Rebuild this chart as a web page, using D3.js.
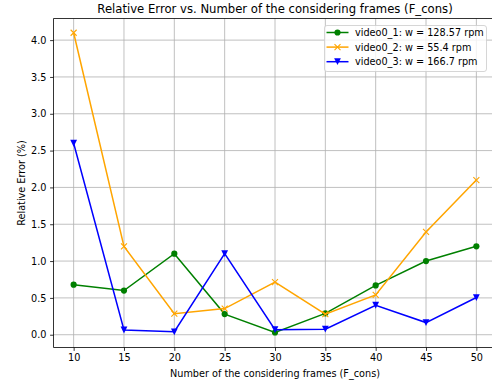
<!DOCTYPE html>
<html>
<head>
<meta charset="utf-8">
<script src="https://cdn.jsdelivr.net/npm/d3@7"></script>
<style>
  html, body { margin: 0; padding: 0; background: #fff; }
  svg { display: block; font-family: "DejaVu Sans", sans-serif; }
</style>
</head>
<body>
<script>
const frames = [10, 15, 20, 25, 30, 35, 40, 45, 50];
const video01 = [0.68, 0.60, 1.10, 0.28, 0.03, 0.29, 0.67, 1.00, 1.20];
const video02 = [4.10, 1.20, 0.285, 0.355, 0.715, 0.28, 0.54, 1.395, 2.10];
const video03 = [2.60, 0.064, 0.04, 1.10, 0.068, 0.075, 0.40, 0.165, 0.505];
const seriesNames = ["video0_1: w = 128.57 rpm", "video0_2: w = 55.4 rpm", "video0_3: w = 166.7 rpm"];
const seriesColors = ["green", "orange", "blue"];
const seriesMarkers = ["circle", "x", "tri"];
const xTicks = [10, 15, 20, 25, 30, 35, 40, 45, 50];
const yTicks = [0.0, 0.5, 1.0, 1.5, 2.0, 2.5, 3.0, 3.5, 4.0];

const W = 492, H = 383;
const pL = 53.5, pR = 496.5, pT = 18.5, pB = 347.5;
const FS = 9.7;

const svg = d3.select("body").append("svg").attr("width", W).attr("height", H);

const x = d3.scaleLinear().domain([8, 52]).range([pL, pR]);
const y = d3.scaleLinear().domain([-0.1735, 4.2935]).range([pB, pT]);

const plot = svg.append("g");

// grid
plot.append("g").selectAll("line").data(xTicks).join("line")
  .attr("x1", d => x(d)).attr("x2", d => x(d)).attr("y1", pT).attr("y2", pB)
  .attr("stroke", "#b0b0b0").attr("stroke-width", 0.8);
plot.append("g").selectAll("line").data(yTicks).join("line")
  .attr("x1", pL).attr("x2", pR).attr("y1", d => y(d)).attr("y2", d => y(d))
  .attr("stroke", "#b0b0b0").attr("stroke-width", 0.8);

// axes
const xAxis = d3.axisBottom(x).tickValues(xTicks).tickFormat(d3.format("d")).tickSize(3.4).tickPadding(3.4);
const yAxis = d3.axisLeft(y).tickValues(yTicks).tickFormat(d3.format(".1f")).tickSize(3.4).tickPadding(3.6);

const gx = svg.append("g").attr("transform", `translate(0,${pB})`).call(xAxis);
const gy = svg.append("g").attr("transform", `translate(${pL},0)`).call(yAxis);
[gx, gy].forEach(g => {
  g.select(".domain").remove();
  g.selectAll("text").attr("font-size", FS).attr("fill", "#000").attr("font-family", "DejaVu Sans");
  g.selectAll("line").attr("stroke", "#000").attr("stroke-width", 0.8);
});
// spines
const spine = (x1, y1, x2, y2) => svg.append("line").attr("x1", x1).attr("y1", y1).attr("x2", x2).attr("y2", y2)
  .attr("stroke", "#000").attr("stroke-width", 0.8);
spine(pL, pT, pL, pB);
spine(pL, pT, pR, pT);
spine(pL, pB, pR, pB);
spine(pR, pT, pR, pB);

// series
const allSeries = [video01, video02, video03];
const line = d3.line().x((d, i) => x(frames[i])).y(d => y(d));

function drawMarker(g, type, color, cx, cy) {
  if (type === "circle") {
    g.append("circle").attr("cx", cx).attr("cy", cy).attr("r", 3.1).attr("fill", color);
  } else if (type === "x") {
    const s = 3.0;
    g.append("path").attr("d", `M${cx - s},${cy - s}L${cx + s},${cy + s}M${cx - s},${cy + s}L${cx + s},${cy - s}`)
      .attr("stroke", color).attr("stroke-width", 1.1).attr("fill", "none");
  } else {
    const s = 3.4;
    g.append("path").attr("d", `M${cx - s},${cy - s}L${cx + s},${cy - s}L${cx},${cy + s}Z`).attr("fill", color);
  }
}

allSeries.forEach((vals, k) => {
  const g = plot.append("g");
  g.append("path").datum(vals).attr("d", line).attr("fill", "none")
    .attr("stroke", seriesColors[k]).attr("stroke-width", 1.5);
  vals.forEach((v, i) => drawMarker(g, seriesMarkers[k], seriesColors[k], x(frames[i]), y(v)));
});

// title & labels
svg.append("text").attr("x", (pL + pR) / 2).attr("y", 13).attr("text-anchor", "middle")
  .attr("font-size", 11.65).attr("fill", "#000").text("Relative Error vs. Number of the considering frames (F_cons)");
svg.append("text").attr("x", (pL + pR) / 2).attr("y", 377).attr("text-anchor", "middle")
  .attr("font-size", FS).attr("fill", "#000").text("Number of the considering frames (F_cons)");
svg.append("text").attr("transform", `translate(24.5,${(pT + pB) / 2}) rotate(-90)`).attr("text-anchor", "middle")
  .attr("font-size", FS).attr("fill", "#000").text("Relative Error (%)");

// legend
const lg = svg.append("g");
lg.append("rect").attr("x", 324.5).attr("y", 25.5).attr("width", 162).attr("height", 46).attr("rx", 2.5)
  .attr("fill", "#fff").attr("fill-opacity", 0.8).attr("stroke", "#cccccc").attr("stroke-width", 0.8);
seriesNames.forEach((name, k) => {
  const ry = 32.5 + k * 14.6;
  lg.append("line").attr("x1", 326.5).attr("x2", 348.5).attr("y1", ry).attr("y2", ry)
    .attr("stroke", seriesColors[k]).attr("stroke-width", 1.5);
  drawMarker(lg, seriesMarkers[k], seriesColors[k], 337.5, ry);
  lg.append("text").attr("x", 355).attr("y", ry + 3.5).attr("font-size", FS).attr("fill", "#000").text(name);
});
</script>
</body>
</html>
